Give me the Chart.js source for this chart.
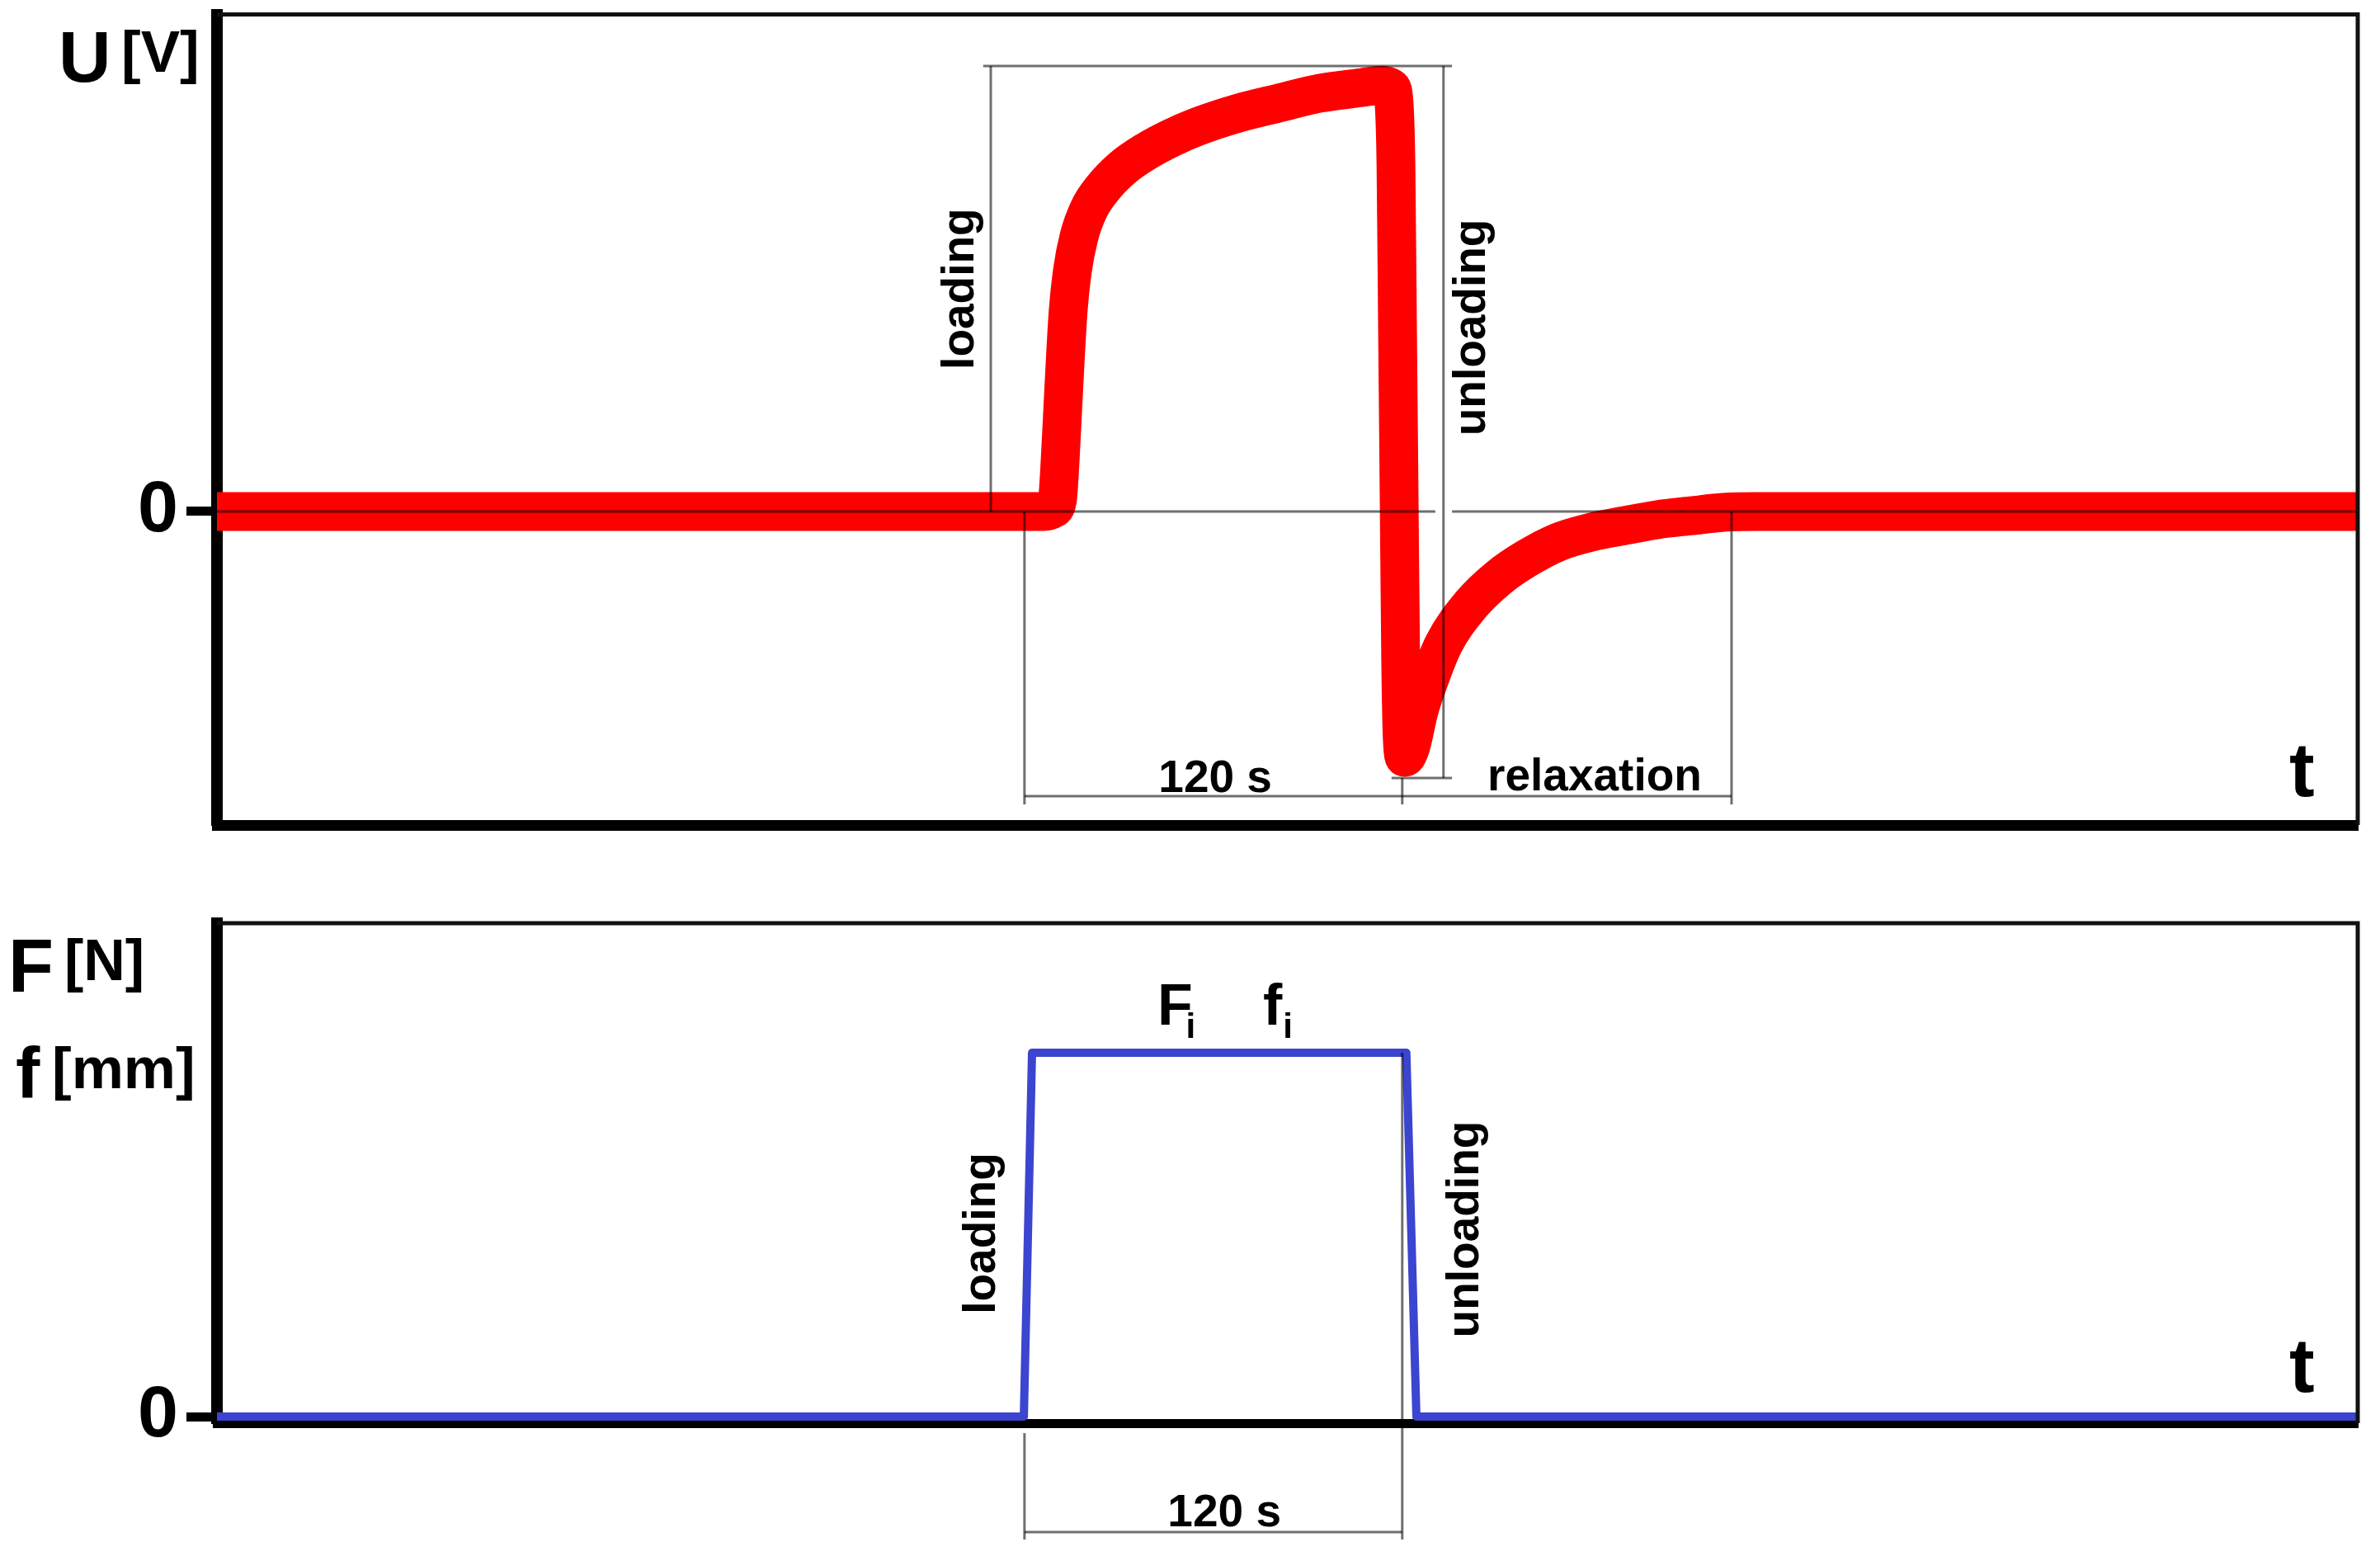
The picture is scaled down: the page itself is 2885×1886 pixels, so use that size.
<!DOCTYPE html>
<html>
<head>
<meta charset="utf-8">
<script src="https://cdn.jsdelivr.net/npm/chart.js@4.4.1/dist/chart.umd.min.js"></script>
<style>
  html, body { margin: 0; padding: 0; background: #fff; }
  body { width: 2885px; height: 1886px; position: relative; overflow: hidden; }
  canvas { position: absolute; left: 0; }
  #voltage { top: 0; }
  #force { top: 1100px; }
</style>
</head>
<body>
<canvas id="voltage" width="2885" height="1010"></canvas>
<canvas id="force" width="2885" height="786"></canvas>
<script>
// BEGIN: DATA
// upper panel: sensor voltage (relative to the plateau) against time [s]
const uTime = [0, 262.6, 265.5, 267.0, 267.8, 268.6, 269.4, 270.4, 271.7, 273.8,
  277.0, 281.2, 287.5, 295.3, 303.2, 311.0, 324.1, 337.2, 350.3, 363.4,
  370.0, 372.9, 373.9, 374.5, 375.0, 375.5, 376.0, 376.5, 377.3, 379.2,
  381.8, 385.2, 389.6, 398.3, 407.2, 415.9, 426.1, 436.6, 447.0, 457.5,
  468.3, 478.5, 489.2, 680];
const uValue = [0, 0, 0.006, 0.029, 0.115, 0.231, 0.346, 0.470, 0.560, 0.640,
  0.705, 0.752, 0.800, 0.840, 0.871, 0.896, 0.928, 0.952, 0.975, 0.988,
  0.994, 0.988, 0.952, 0.808, 0.423, 0.038, -0.346, -0.529, -0.573, -0.548,
  -0.465, -0.390, -0.310, -0.217, -0.154, -0.110, -0.071, -0.048, -0.033, -0.019,
  -0.010, -0.002, 0, 0];

// lower panel: force / deflection step (1 = Fi, fi)
const fTime = [0, 256.3, 258.9, 377.8, 381.0, 680];
const fValue = [0, 0, 1, 1, 0, 0];

const tRange = [0, 680];
const uRange = [-0.7308, 1.1587];
const fRange = [-0.0181, 1.356];
const zeroTick = [0];

// dimension lines [t1, v1, t2, v2]
const uGuides = [
  [243.4, 1.0385, 392.3, 1.0385],
  [245.8, 1.0385, 245.8, 0],
  [389.6, 1.0385, 389.6, -0.6212],
  [373.1, -0.6212, 392.3, -0.6212],
  [0, 0, 387.0, 0],
  [392.3, 0, 680, 0],
  [256.5, 0, 256.5, -0.6827],
  [376.5, -0.6212, 376.5, -0.6827],
  [481.1, 0, 481.1, -0.6827],
  [256.5, -0.6635, 481.1, -0.6635],
];
const fGuides = [
  [376.5, 1, 376.5, -0.3379],
  [256.5, -0.0454, 256.5, -0.3379],
  [256.5, -0.3175, 376.5, -0.3175],
];

// notes [text, t, v, size, rotated, align]
const uNotes = [
  ["loading", 240.3, 0.519, 55, true, "center"],
  ["unloading", 402.8, 0.429, 55, true, "center"],
  ["120 s", 317.1, -0.6538, 55, false, "center"],
  ["relaxation", 437.6, -0.65, 55, false, "center"],
];
const fNotes = [
  ["loading", 247.1, 0.5034, 55, true, "center"],
  ["unloading", 400.7, 0.5147, 55, true, "center"],
  ["120 s", 320.0, -0.3016, 55, false, "center"],
  ["F", 298.7, 1.0771, 70, false, "left"],
  ["i", 307.8, 1.0408, 42, false, "left"],
  ["f", 332.3, 1.0771, 70, false, "left"],
  ["i", 338.6, 1.0408, 42, false, "left"],
];
// END: DATA

const FONT = "'Liberation Sans', Arial, sans-serif";

// axis titles [text, x, y, size] in canvas pixels
const uTitles = [["U", 71, 99, 88], ["[V]", 147, 87, 71], ["t", 2775, 965, 92]];
const fTitles = [["F", 10, 102, 90], ["[N]", 78, 88, 70], ["f", 19, 230, 88], ["[mm]", 63, 219, 71], ["t", 2775, 587, 92]];

const sketch = {
  id: "sketch",
  afterDatasetsDraw(chart, args, opts) {
    const { ctx, chartArea: area } = chart;
    const x = chart.scales.x;
    const y = chart.scales.y;
    ctx.save();

    // thin grey dimension lines (multiply so they darken the red band)
    ctx.globalCompositeOperation = "multiply";
    ctx.strokeStyle = "#6f6f6f";
    ctx.lineWidth = 3;
    opts.guides.forEach(([t1, v1, t2, v2]) => {
      ctx.beginPath();
      ctx.moveTo(x.getPixelForValue(t1), y.getPixelForValue(v1));
      ctx.lineTo(x.getPixelForValue(t2), y.getPixelForValue(v2));
      ctx.stroke();
    });
    ctx.globalCompositeOperation = "source-over";

    ctx.fillStyle = "#000";
    ctx.textBaseline = "alphabetic";
    opts.notes.forEach(([text, t, v, size, rotated, align]) => {
      ctx.save();
      ctx.font = `bold ${size}px ${FONT}`;
      ctx.textAlign = align;
      ctx.translate(x.getPixelForValue(t), y.getPixelForValue(v));
      if (rotated) ctx.rotate(-Math.PI / 2);
      ctx.fillText(text, 0, 0);
      ctx.restore();
    });

    // top and right edge of the frame
    ctx.strokeStyle = "#111";
    ctx.lineWidth = 5;
    ctx.beginPath();
    ctx.moveTo(area.left, area.top);
    ctx.lineTo(area.right + 2.5, area.top);
    ctx.moveTo(area.right, area.top);
    ctx.lineTo(area.right, area.bottom);
    ctx.stroke();

    ctx.textAlign = "left";
    opts.titles.forEach(([text, px, py, size]) => {
      ctx.font = `bold ${size}px ${FONT}`;
      ctx.fillText(text, px, py);
    });
    ctx.restore();
  },
};

// drop the label overhang chart.js reserves around the axes
const noOverhang = (s) => {
  s.paddingTop = 0;
  s.paddingBottom = 0;
  s.paddingLeft = 0;
  s.paddingRight = 0;
};

function panelOptions(yRange, pad, borderBottom, notes) {
  return {
    responsive: false,
    animation: false,
    devicePixelRatio: 1,
    layout: { padding: pad },
    plugins: {
      legend: { display: false },
      tooltip: { enabled: false },
      sketch: notes,
    },
    scales: {
      x: {
        type: "linear",
        min: tRange[0],
        max: tRange[1],
        ticks: { display: false },
        grid: { display: false },
        border: { color: "#000", width: borderBottom },
        afterFit: (s) => { s.height = 0; noOverhang(s); },
      },
      y: {
        type: "linear",
        min: yRange[0],
        max: yRange[1],
        afterBuildTicks: (s) => { s.ticks = zeroTick.map((v) => ({ value: v })); },
        ticks: {
          color: "#000",
          padding: 10,
          font: { family: FONT, size: 88, weight: "bold" },
          callback: (v) => String(v),
        },
        grid: {
          drawOnChartArea: false,
          drawTicks: true,
          tickLength: 37,
          tickWidth: 11,
          tickColor: "#000",
        },
        border: { color: "#000", width: 14 },
        afterFit: (s) => { s.width = 263; noOverhang(s); },
      },
    },
  };
}

// BEGIN: VOLTAGE PANEL
new Chart(document.getElementById("voltage"), {
  type: "line",
  data: {
    datasets: [
      {
        data: uTime.map((t, i) => ({ x: t, y: uValue[i] })),
        borderColor: "#ff0000",
        borderWidth: 47,
        borderCapStyle: "round",
        borderJoinStyle: "round",
        cubicInterpolationMode: "monotone",
        pointRadius: 0,
        clip: 0,
      },
    ],
  },
  options: panelOptions(uRange, { top: 17.5, right: 27, bottom: 10, left: 0 }, 13,
    { guides: uGuides, notes: uNotes, titles: uTitles }),
  plugins: [sketch],
});
// END: VOLTAGE PANEL

// BEGIN: FORCE PANEL
new Chart(document.getElementById("force"), {
  type: "line",
  data: {
    datasets: [
      {
        data: fTime.map((t, i) => ({ x: t, y: fValue[i] })),
        borderColor: "#3b45d0",
        borderWidth: 10,
        borderJoinStyle: "round",
        tension: 0,
        pointRadius: 0,
        clip: 0,
      },
    ],
  },
  options: panelOptions(fRange, { top: 19, right: 27, bottom: 161, left: 0 }, 11,
    { guides: fGuides, notes: fNotes, titles: fTitles }),
  plugins: [sketch],
});
// END: FORCE PANEL
</script>
</body>
</html>
